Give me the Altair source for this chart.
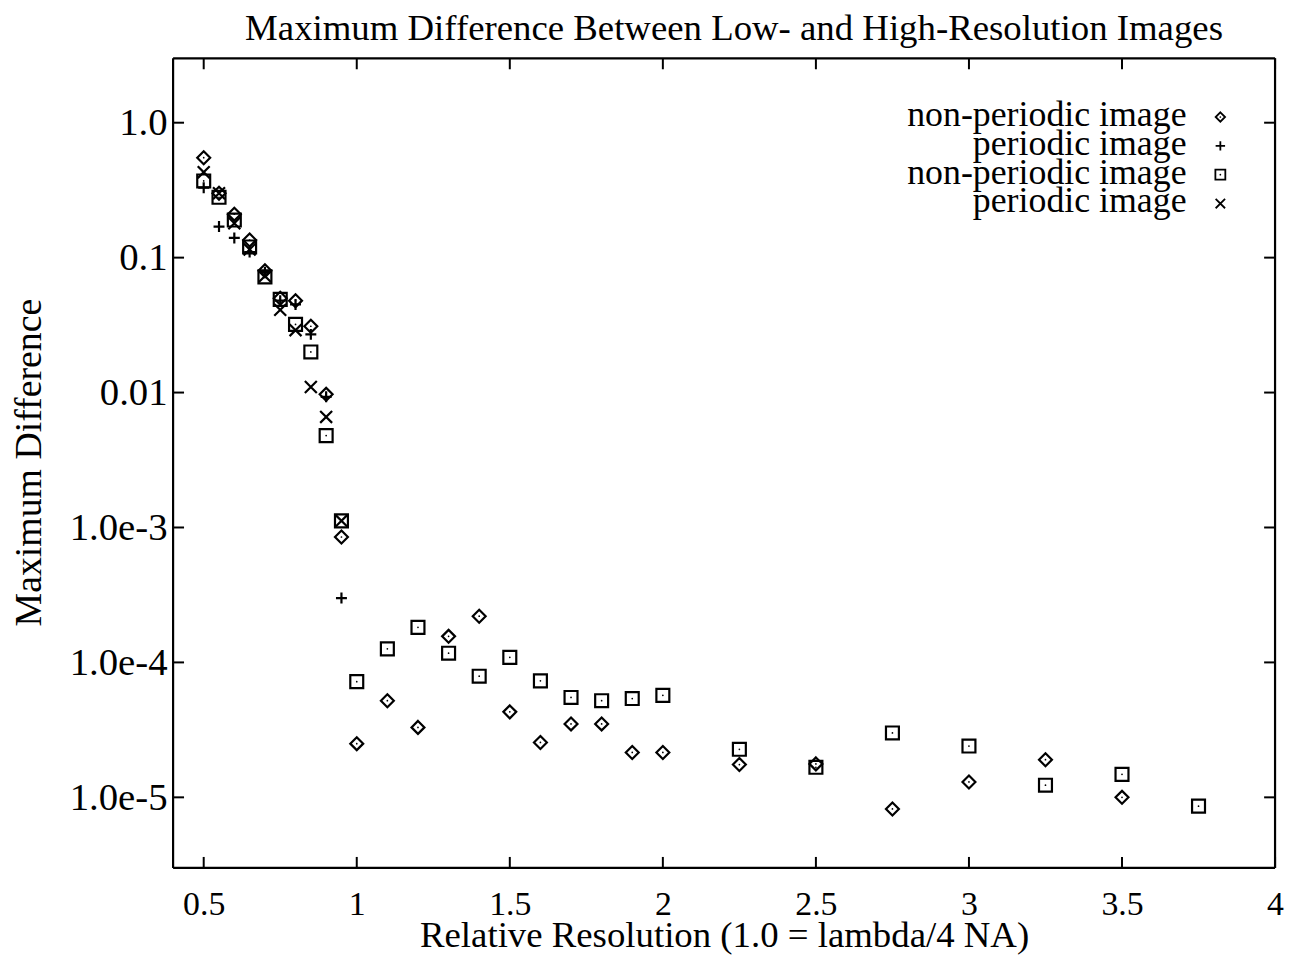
import altair as alt
import pandas as pd

FONT = "Liberation Serif"

# ---------------- data ----------------
x_fine = [0.5, 0.55, 0.6, 0.65, 0.7, 0.75, 0.8, 0.85, 0.9, 0.95]
x_coarse = [1.0, 1.1, 1.2, 1.3, 1.4, 1.5, 1.6, 1.7, 1.8, 1.9, 2.0,
            2.25, 2.5, 2.75, 3.0, 3.25, 3.5]
x_coarse_sq = x_coarse + [3.75]

diamond_fine = [0.55, 0.30, 0.21, 0.135, 0.08, 0.05, 0.048, 0.031, 0.0097, 0.00085]
diamond_coarse = [2.5e-5, 5.2e-5, 3.3e-5, 1.56e-4, 2.2e-4, 4.3e-5, 2.55e-5, 3.5e-5,
                  3.5e-5, 2.15e-5, 2.15e-5, 1.75e-5, 1.77e-5, 8.2e-6, 1.3e-5,
                  1.9e-5, 1.0e-5]

plus_fine = [0.33, 0.17, 0.14, 0.11, 0.078, 0.048, 0.045, 0.027, 0.0093, 0.0003]

square_fine = [0.37, 0.28, 0.19, 0.12, 0.072, 0.049, 0.032, 0.020, 0.0048, 0.00112]
square_coarse = [7.2e-5, 1.26e-4, 1.82e-4, 1.17e-4, 7.9e-5, 1.09e-4, 7.3e-5, 5.5e-5,
                 5.2e-5, 5.4e-5, 5.7e-5, 2.27e-5, 1.67e-5, 3.0e-5, 2.4e-5, 1.23e-5,
                 1.48e-5, 8.6e-6]

cross_fine = [0.43, 0.30, 0.18, 0.115, 0.073, 0.041, 0.029, 0.011, 0.0066, 0.00112]

legend_labels = ["non-periodic image", "periodic image",
                 "non-periodic image", "periodic image"]

title_text = "Maximum Difference Between Low- and High-Resolution Images"
x_title = "Relative Resolution (1.0 = lambda/4 NA)"
y_title = "Maximum Difference"

x_tick_values = [0.5, 1.0, 1.5, 2.0, 2.5, 3.0, 3.5, 4.0]
y_tick_values = [1.0, 0.1, 0.01, 1e-3, 1e-4, 1e-5]

# ---------------- marker shapes ----------------
DIAMOND = "M0,-1L1,0L0,1L-1,0Z"
PLUS = "M-1,0L1,0M0,-1L0,1"
SQUARE = "M-1,-1L1,-1L1,1L-1,1Z"
CROSS = "M-1,-1L1,1M-1,1L1,-1"
shapes = [DIAMOND, PLUS, SQUARE, CROSS]
sizes = [169, 121, 169, 144]
legend_sizes = [90, 90, 100, 90]

W, H = 1108, 814

xs = alt.Scale(type="linear", domain=[0.4, 4.0], nice=False, zero=False)
ys = alt.Scale(type="log", domain=[3e-6, 3.0], nice=False)

ylabel_expr = ("datum.value >= 0.9 ? '1.0' : datum.value >= 0.09 ? '0.1' : "
               "datum.value >= 0.009 ? '0.01' : datum.value >= 0.0009 ? '1.0e-3' : "
               "datum.value >= 0.00009 ? '1.0e-4' : '1.0e-5'")

xaxis = alt.Axis(values=x_tick_values, format="~g", grid=False, ticks=False,
                 domain=False, labelFont=FONT, labelFontSize=34, labelColor="black",
                 labelPadding=37, labelBaseline="middle", labelFlush=False,
                 labelOverlap=False,
                 title=x_title, titleFont=FONT,
                 titleFontSize=37, titleFontWeight="normal", titleColor="black",
                 titleY=79, titleBaseline="alphabetic")
yaxis = alt.Axis(values=y_tick_values, labelExpr=ylabel_expr, grid=False,
                 ticks=False, domain=False, labelFont=FONT, labelFontSize=39,
                 labelColor="black", labelPadding=6, labelOverlap=False,
                 labelFlush=False,
                 title=y_title, titleFont=FONT, titleFontSize=38,
                 titleFontWeight="normal", titleColor="black", titleX=-144,
                 titleY=406, titleAngle=270, titleAlign="center",
                 titleBaseline="middle")


def X(field):
    return alt.X(field, type="quantitative", scale=xs, axis=xaxis)


def Y(field):
    return alt.Y(field, type="quantitative", scale=ys, axis=yaxis)


series = [
    (x_fine + x_coarse, diamond_fine + diamond_coarse),
    (x_fine, plus_fine),
    (x_fine + x_coarse_sq, square_fine + square_coarse),
    (x_fine, cross_fine),
]

layers = []
for i, (xv, yv) in enumerate(series):
    df = pd.DataFrame({"x": xv, "y": yv})
    layers.append(
        alt.Chart(df).mark_point(shape=shapes[i], size=sizes[i], filled=False,
                                 color="black", strokeWidth=2.2, opacity=1)
        .encode(x=X("x"), y=Y("y"))
    )
    if i in (0, 2):
        layers.append(
            alt.Chart(df).mark_point(shape="circle", size=3, filled=True,
                                     color="black", opacity=1)
            .encode(x=X("x"), y=Y("y"))
        )

# frame
frame_df = pd.DataFrame({"k": [0]})
BW = 2.2
layers.append(alt.Chart(frame_df).mark_rule(color="black", strokeWidth=BW)
              .encode(x=alt.value(0), x2=alt.value(W), y=alt.value(0)))
layers.append(alt.Chart(frame_df).mark_rule(color="black", strokeWidth=BW)
              .encode(x=alt.value(0), x2=alt.value(W), y=alt.value(H)))
layers.append(alt.Chart(frame_df).mark_rule(color="black", strokeWidth=BW)
              .encode(x=alt.value(0), y=alt.value(0), y2=alt.value(H)))
layers.append(alt.Chart(frame_df).mark_rule(color="black", strokeWidth=BW)
              .encode(x=alt.value(W), y=alt.value(0), y2=alt.value(H)))

# inward ticks on all four sides
ytick_df = pd.DataFrame({"y": y_tick_values})
xtick_df = pd.DataFrame({"x": x_tick_values})
TL = 11
layers.append(alt.Chart(ytick_df).mark_rule(color="black", strokeWidth=2)
              .encode(y=Y("y"), x=alt.value(0), x2=alt.value(TL)))
layers.append(alt.Chart(ytick_df).mark_rule(color="black", strokeWidth=2)
              .encode(y=Y("y"), x=alt.value(W - TL), x2=alt.value(W)))
layers.append(alt.Chart(xtick_df).mark_rule(color="black", strokeWidth=2)
              .encode(x=X("x"), y=alt.value(H - TL), y2=alt.value(H)))
layers.append(alt.Chart(xtick_df).mark_rule(color="black", strokeWidth=2)
              .encode(x=X("x"), y=alt.value(0), y2=alt.value(TL)))

# key (text right-aligned, symbol to its right)
key_y = [57, 86, 115, 144]
for i, lab in enumerate(legend_labels):
    ldf = pd.DataFrame({"label": [lab]})
    layers.append(
        alt.Chart(ldf).mark_text(align="right", baseline="middle", font=FONT,
                                 fontSize=36, color="black")
        .encode(text="label:N", x=alt.value(1019), y=alt.value(key_y[i]))
    )
    layers.append(
        alt.Chart(ldf).mark_point(shape=shapes[i], size=legend_sizes[i],
                                  filled=False, color="black", strokeWidth=1.8,
                                  opacity=1)
        .encode(x=alt.value(1053), y=alt.value(key_y[i] + 2))
    )
    if i in (0, 2):
        layers.append(
            alt.Chart(ldf).mark_point(shape="circle", size=3, filled=True,
                                      color="black", opacity=1)
            .encode(x=alt.value(1053), y=alt.value(key_y[i] + 2))
        )

# chart title as a text mark above the frame
tdf = pd.DataFrame({"t": [title_text]})
layers.append(
    alt.Chart(tdf).mark_text(align="center", baseline="alphabetic", font=FONT,
                             fontSize=37, color="black")
    .encode(text="t:N", x=alt.value(564), y=alt.value(-18))
)

chart = (
    alt.layer(*layers)
    .properties(
        width=W, height=H,
        autosize=alt.AutoSizeParams(type="none"),
        padding={"left": 166, "top": 48, "right": 10, "bottom": 88},
    )
    .configure(background="white")
    .configure_view(stroke=None)
)

chart.save("out.html", embed_options={"renderer": "svg", "actions": False})
